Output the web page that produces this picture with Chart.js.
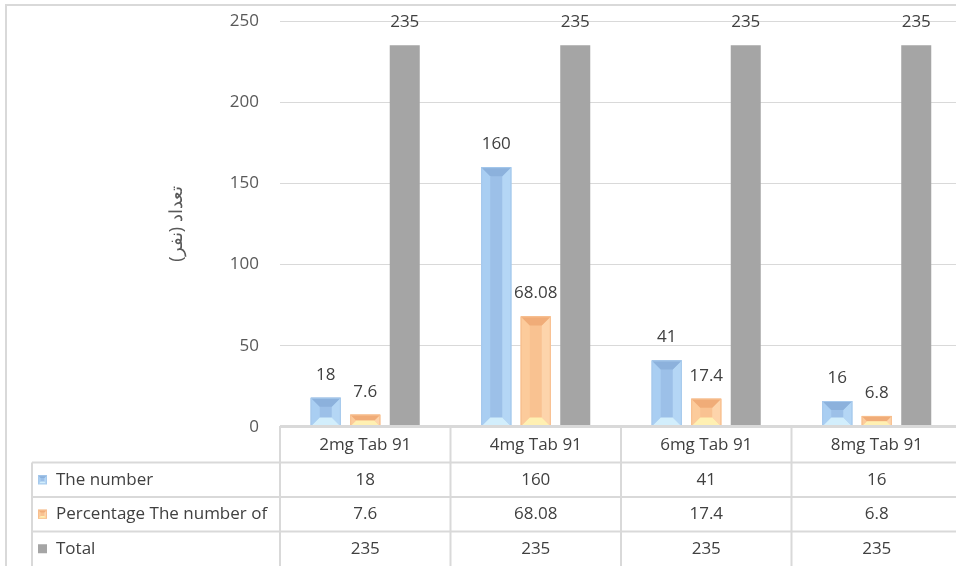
<!DOCTYPE html>
<html>
<head>
<meta charset="utf-8">
<script src="https://cdn.jsdelivr.net/npm/chart.js@4.4.1/dist/chart.umd.min.js"></script>
<style>
  html, body { margin: 0; padding: 0; background: #fff; overflow: hidden; }
  #wrap { width: 970px; height: 566px; }
</style>
</head>
<body>
<div id="wrap"><canvas id="chart" width="970" height="566"></canvas></div>
<script>
const categories = ['2mg Tab 91', '4mg Tab 91', '6mg Tab 91', '8mg Tab 91'];
const seriesNames = ['The number', 'Percentage The number of', 'Total'];
const numberValues = [18, 160, 41, 16];
const percentValues = [7.6, 68.08, 17.4, 6.8];
const totalValues = [235, 235, 235, 235];
const yTitle = 'تعداد (نفر)';

const font_family = '"Open Sans", sans-serif';
const text_color = '#404040';
const line_color = '#d9d9d9';

// colours for the bevelled bars
const bevels = [
    { face: '#9cc0e8', top: '#8cb1dc', bottom: '#d2eefc', left: '#a9cef2', right: '#b4d6f5', edge: '#a6c9ec' },
    { face: '#f9c291', top: '#f0ac78', bottom: '#fff0b2', left: '#fccb9b', right: '#fdd4ab', edge: '#f7be8e' },
];

function bevelBar(ctx, bar, c) {
    const l = bar.x - bar.width / 2, r = bar.x + bar.width / 2;
    const t = Math.min(bar.y, bar.base), b = Math.max(bar.y, bar.base);
    const h = b - t;
    const s = Math.min(bar.width * 0.3, h / 2);
    const poly = (pts, col) => {
        ctx.beginPath();
        ctx.moveTo(pts[0][0], pts[0][1]);
        for (let i = 1; i < pts.length; i++) ctx.lineTo(pts[i][0], pts[i][1]);
        ctx.closePath();
        ctx.fillStyle = col;
        ctx.fill();
    };
    ctx.save();
    poly([[l, t], [r, t], [r, b], [l, b]], c.face);
    poly([[l, t], [l + s, t + s], [l + s, b - s], [l, b]], c.left);
    poly([[r, t], [r - s, t + s], [r - s, b - s], [r, b]], c.right);
    poly([[l, t], [r, t], [r - s, t + s], [l + s, t + s]], c.top);
    poly([[l, b], [r, b], [r - s, b - s], [l + s, b - s]], c.bottom);
    ctx.strokeStyle = c.edge;
    ctx.lineWidth = 1;
    ctx.strokeRect(l + 0.5, t + 0.5, bar.width - 1, h - 1);
    ctx.restore();
}

const framePlugin = {
    id: 'frame',
    beforeDraw(chart) {
        const ctx = chart.ctx;
        ctx.save();
        ctx.fillStyle = '#fff';
        ctx.fillRect(0, 0, chart.width, chart.height);
        ctx.strokeStyle = line_color;
        ctx.lineWidth = 2;
        ctx.beginPath();
        ctx.moveTo(6, chart.height);
        ctx.lineTo(6, 5);
        ctx.lineTo(chart.width, 5);
        ctx.stroke();
        ctx.restore();
    }
};

const barsPlugin = {
    id: 'bars',
    afterDatasetsDraw(chart) {
        const ctx = chart.ctx;
        chart.data.datasets.forEach((ds, di) => {
            const meta = chart.getDatasetMeta(di);
            meta.data.forEach((bar, i) => {
                if (di < 2) bevelBar(ctx, bar, bevels[di]);
                ctx.save();
                ctx.font = '17px ' + font_family;
                ctx.fillStyle = text_color;
                ctx.textAlign = 'center';
                ctx.textBaseline = 'middle';
                ctx.fillText(String(ds.data[i]), bar.x, bar.y - 23);
                ctx.restore();
            });
        });
    }
};

const tablePlugin = {
    id: 'table',
    afterDraw(chart) {
        const ctx = chart.ctx;
        const x = chart.scales.x;
        const area = chart.chartArea;
        const n = categories.length;
        const cw = (area.right - area.left) / n;
        const top = area.bottom - 1;
        const rowH = 34.5;
        const rows = [numberValues, percentValues, totalValues];
        const tableLeft = 32;
        const bottom = chart.height;

        ctx.save();
        ctx.strokeStyle = line_color;
        ctx.lineWidth = 2;
        ctx.beginPath();
        ctx.moveTo(area.left, top);
        ctx.lineTo(chart.width, top);
        for (let r = 1; r <= 3; r++) {
            const y = top + 2 + r * rowH;
            ctx.moveTo(tableLeft, y);
            ctx.lineTo(chart.width, y);
        }
        ctx.moveTo(tableLeft, top + 2 + rowH);
        ctx.lineTo(tableLeft, bottom);
        for (let i = 0; i < n; i++) {
            const xx = area.left + i * cw;
            ctx.moveTo(xx, top);
            ctx.lineTo(xx, bottom);
        }
        ctx.stroke();

        ctx.font = '17px ' + font_family;
        ctx.fillStyle = text_color;
        ctx.textBaseline = 'middle';
        ctx.textAlign = 'center';
        categories.forEach((c, i) => {
            ctx.fillText(c, x.getPixelForValue(i), top + 2 + rowH / 2);
        });
        rows.forEach((vals, r) => {
            const cy = top + 2 + (r + 1.5) * rowH;
            vals.forEach((v, i) => {
                ctx.textAlign = 'center';
                ctx.fillStyle = text_color;
                ctx.fillText(String(v), x.getPixelForValue(i), cy);
            });
            // legend key
            if (r < 2) {
                bevelBar(ctx, { x: 42.5, width: 9, y: cy - 4.5, base: cy + 4.5 }, bevels[r]);
            } else {
                ctx.fillStyle = '#a5a5a5';
                ctx.fillRect(38, cy - 4.5, 9, 9);
            }
            ctx.textAlign = 'left';
            ctx.fillStyle = text_color;
            ctx.fillText(seriesNames[r], 56, cy);
        });
        ctx.restore();
    }
};

new Chart(document.getElementById('chart'), {
    type: 'bar',
    data: {
        labels: categories,
        datasets: [
            { label: seriesNames[0], data: numberValues, backgroundColor: bevels[0].face },
            { label: seriesNames[1], data: percentValues, backgroundColor: bevels[1].face },
            { label: seriesNames[2], data: totalValues, backgroundColor: '#a5a5a5' },
        ]
    },
    options: {
        responsive: false,
        animation: false,
        devicePixelRatio: 1,
        layout: { padding: { left: 166, right: 8, top: 21, bottom: 139 } },
        datasets: { bar: { barPercentage: 0.76, categoryPercentage: 0.695 } },
        scales: {
            x: { display: false },
            y: {
                min: 0,
                max: 250,
                ticks: {
                    stepSize: 50,
                    padding: 21,
                    color: '#595959',
                    font: { family: font_family, size: 17 }
                },
                grid: { color: line_color, lineWidth: 1, drawTicks: false },
                border: { display: false },
                title: {
                    display: true,
                    text: yTitle,
                    color: '#595959',
                    padding: { top: 0, bottom: 0 },
                    font: { family: font_family, size: 18 }
                },
                afterFit(scale) {
                    scale.width = 114;
                    scale.paddingTop = 0;
                    scale.paddingBottom = 0;
                }
            }
        },
        plugins: {
            legend: { display: false },
            tooltip: { enabled: false }
        }
    },
    plugins: [framePlugin, barsPlugin, tablePlugin]
});
</script>
</body>
</html>
